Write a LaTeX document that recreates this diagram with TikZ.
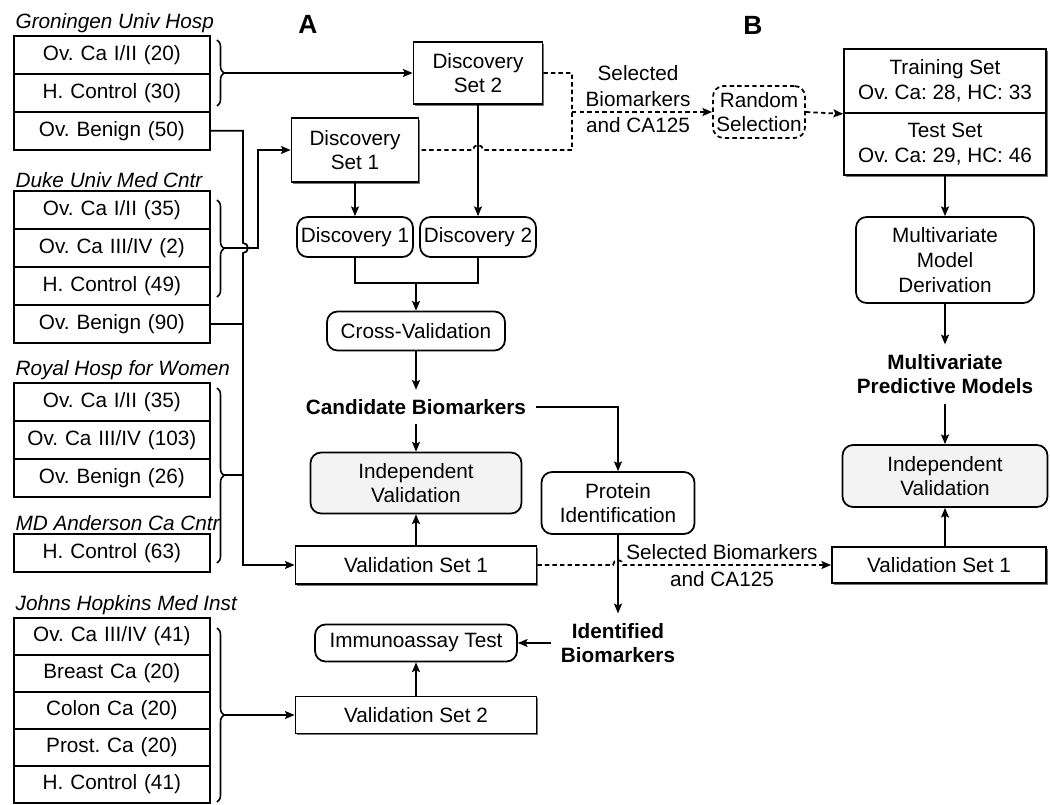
\documentclass[tikz,border=0pt]{standalone}
\usepackage{fontspec}
\setmainfont{Liberation Sans}
\usepackage{xcolor}
\usepackage{tikz}
\usetikzlibrary{matrix, positioning, arrows.meta, calc, shadows}
\usetikzlibrary{decorations.pathreplacing}
\definecolor{valgray}{RGB}{243, 243, 243}
\frenchspacing

\begin{document}
\begin{tikzpicture}[
        x=0.02cm, y=-0.02cm,
        >={Stealth[length=5.5pt, width=4.5pt, inset=1pt]},
        font=\fontsize{11.8}{14}\selectfont,
        line width=1pt,
        % Base style for the sample cells on the left
        cell/.style={
            draw,
            minimum height=0.76cm,
            text width=3.92cm,
            align=center,
            inner sep=0pt,
            outer sep=0pt,
            anchor=center
        },
        % Style for one site's sample table
        site_table/.style={
            matrix of nodes,
            nodes={cell},
            row sep=-\pgflinewidth,
            anchor=north west,
            inner sep=0pt,
            outer sep=0pt
        },
        site_name/.style={font=\fontsize{11.8}{14}\selectfont\itshape, anchor=south west, inner sep=1pt},
        % Sample sets (square boxes) and analysis steps (rounded boxes)
        setbox/.style={draw, fill=white, align=center, inner sep=2pt,
            drop shadow={shadow xshift=1pt, shadow yshift=-1pt, fill=black!55, opacity=1}},
        stepbox/.style={draw, fill=white, rounded corners=6pt, align=center, inner sep=2pt},
        result/.style={font=\fontsize{11.8}{14}\selectfont\bfseries, align=center, inner sep=5pt},
        transfer/.style={dash pattern=on 2.5pt off 1.8pt},
        brace/.style={decorate, decoration={brace, amplitude=4pt}, line width=0.9pt},
        panel/.style={font=\fontsize{15}{17}\selectfont\bfseries}
    ]

    \useasboundingbox (0,0) rectangle (1050,804);

    % 1. Panel letters
    \node[panel] (lblA) at (308,24) {A};
    \node[panel] (lblB) at (753,25) {B};

    % 2. Sample tables per site
    \matrix (gron) [site_table] at (13,35) {
        Ov. Ca I/II (20) \\
        H. Control (30) \\
        Ov. Benign (50) \\
    };
    \node[site_name] (gron_t) at (gron.north west) {Groningen Univ Hosp};

    \matrix (duke) [site_table] at (13,190) {
        Ov. Ca I/II (35) \\
        Ov. Ca III/IV (2) \\
        H. Control (49) \\
        Ov. Benign (90) \\
    };
    \node[site_name] (duke_t) at (duke.north west) {Duke Univ Med Cntr};

    \matrix (roy) [site_table] at (13,382) {
        Ov. Ca I/II (35) \\
        Ov. Ca III/IV (103) \\
        Ov. Benign (26) \\
    };
    \node[site_name] (roy_t) at (roy.north west) {Royal Hosp for Women};

    \matrix (mda) [site_table] at (13,533) {
        H. Control (63) \\
    };
    \node[site_name] (mda_t) at (mda.north west) {MD Anderson Ca Cntr};

    \matrix (hop) [site_table, nodes={minimum height=0.74cm}] at (13,617) {
        Ov. Ca III/IV (41) \\
        Breast Ca (20) \\
        Colon Ca (20) \\
        Prost. Ca (20) \\
        H. Control (41) \\
    };
    \node[site_name] (hop_t) at (hop.north west) {Johns Hopkins Med Inst};

    % 3. Braces grouping the samples
    \draw[brace] (217,40) -- (217,106);
    \coordinate (gron_b) at (224,73);
    \draw[brace] (217,200) -- (217,297);
    \coordinate (duke_b) at (224,248);
    \draw[brace] (217,388) -- (217,563);
    \coordinate (roy_b) at (224,475);
    \draw[brace] (217,628) -- (217,802);
    \coordinate (hop_b) at (224,715);

    % 4. Panel A: discovery and validation
    \node[setbox, minimum width=2.58cm, minimum height=1.24cm] (ds2) at (478,73) {Discovery\\Set 2};
    \node[setbox, minimum width=2.54cm, minimum height=1.28cm] (ds1) at (355,150) {Discovery\\Set 1};
    \node[stepbox, minimum width=2.32cm, minimum height=0.8cm] (disc1) at (355,237) {Discovery 1};
    \node[stepbox, minimum width=2.32cm, minimum height=0.8cm] (disc2) at (478,237) {Discovery 2};
    \node[stepbox, minimum width=3.56cm, minimum height=0.78cm] (xval) at (416,331) {Cross-Validation};
    \node[result] (cand) at (416,407) {Candidate Biomarkers};
    \node[stepbox, fill=valgray, minimum width=4.22cm, minimum height=1.22cm] (indepA) at (416,483) {Independent\\Validation};
    \node[stepbox, minimum width=3.06cm, minimum height=1.24cm] (protid) at (618,503) {Protein\\Identification};
    \node[setbox, minimum width=4.82cm, minimum height=0.76cm] (valA1) at (416,565) {Validation Set 1};
    \node[result] (ident) at (618,643) {Identified\\Biomarkers};
    \node[stepbox, minimum width=4.04cm, minimum height=0.74cm] (immuno) at (416,643) {Immunoassay Test};
    \node[setbox, minimum width=4.82cm, minimum height=0.74cm] (valA2) at (416,715) {Validation Set 2};

    % 5. Panel B: model building
    \node[align=center, font=\fontsize{11.8}{15}\selectfont] (selA) at (638,99) {Selected\\Biomarkers\\and CA125};
    \node[stepbox, transfer, minimum width=1.84cm, minimum height=1.04cm, inner sep=1pt] (rand) at (759,112) {Random\\Selection};
    \node[setbox, minimum width=4.04cm, minimum height=1.28cm] (train) at (945,81) {Training Set\\Ov. Ca: 28, HC: 33};
    \node[setbox, minimum width=4.04cm, minimum height=1.24cm] (test) at (945,144) {Test Set\\Ov. Ca: 29, HC: 46};
    \node[stepbox, minimum width=3.56cm, minimum height=1.72cm] (mmd) at (945,260) {Multivariate\\Model\\Derivation};
    \node[result] (mpm) at (945,374) {Multivariate\\Predictive Models};
    \node[stepbox, fill=valgray, minimum width=4.1cm, minimum height=1.24cm] (indepB) at (945,476) {Independent\\Validation};
    \node[setbox, minimum width=4.28cm, minimum height=0.72cm] (valB1) at (939,565) {Validation Set 1};
    \node (selB1) at (722,552) {Selected Biomarkers};
    \node (selB2) at (722,579) {and CA125};

    % 6. Sites to sample sets (the bus hops over the Duke line)
    \coordinate (bus) at (243,0);
    \coordinate (duke_turn) at (258,248);
    \draw[->] (gron_b) -- (ds2.west);
    \draw[->] (gron-3-1.east) -| ($(bus |- duke_b)+(0,-5)$) arc[start angle=90, end angle=-90, radius=0.1cm]
        -- (bus |- valA1.west) -- (valA1.west);
    \draw (duke-4-1.east) -- (bus |- duke-4-1.east);
    \draw (roy_b) -- (bus |- roy_b);
    \draw[->] (duke_b) -- (duke_turn) |- (ds1.west);
    \draw[->] (hop_b) -- (valA2.west);

    % 7. Discovery flow
    \coordinate (merge) at (416,283);
    \draw[->] (ds1.south) -- (disc1.north);
    \draw[->] (ds2.south) -- (disc2.north);
    \draw (disc1.south) |- (merge) -| (disc2.south);
    \draw[->] (merge) -- (xval.north);
    \draw[->] (xval.south) -- (cand.north);
    \draw[->] (cand.south) -- (indepA.north);
    \draw[->] (cand.east) -| (protid.north);
    \draw[->] (protid.south) -- (ident.north);
    \draw[->] (ident.west) -- (immuno.east);
    \draw[->] (valA1.north) -- (indepA.south);
    \draw[->] (valA2.north) -- (immuno.south);

    % 8. Dashed transfer of selected biomarkers
    \coordinate (sel_bus) at (572,112);
    \draw[transfer] (ds2.east) -| (sel_bus |- ds1.east) -- ($(ds2.south |- ds1.east)+(5,0)$)
        arc[start angle=0, end angle=180, radius=0.1cm] -- (ds1.east);
    \draw[transfer, ->] (sel_bus) -- (rand.west);
    \draw[transfer, ->] (rand.east) -- (train.south west);
    \draw[transfer, ->] (valA1.east) -- ($(protid.south |- valA1.east)+(-5,0)$)
        arc[start angle=180, end angle=0, radius=0.1cm] -- (valB1.west);

    % 9. Model derivation flow
    \draw[->] (test.south) -- (mmd.north);
    \draw[->] (mmd.south) -- (mpm.north);
    \draw[->] (mpm.south) -- (indepB.north);
    \draw[->] (indepB.south |- valB1.north) -- (indepB.south);

\end{tikzpicture}
\end{document}
